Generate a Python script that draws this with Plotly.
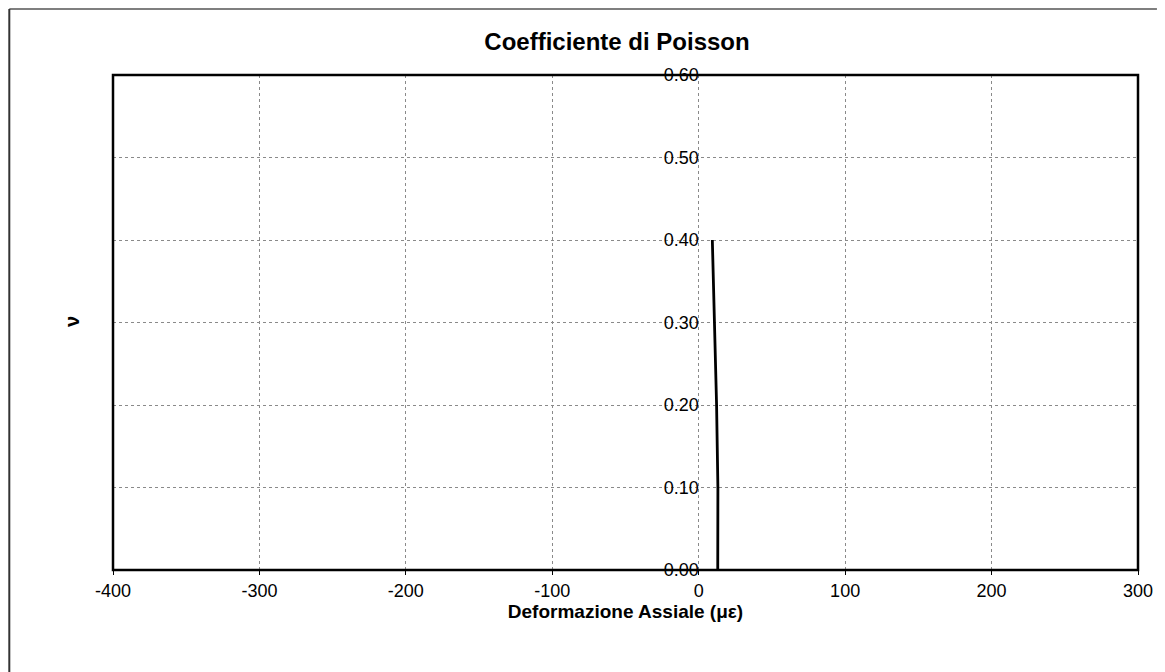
import plotly.graph_objects as go

# Data
strain = [9.3, 10.9, 12.2, 13.1, 13.0]   # Deformazione Assiale (με)
nu = [0.40, 0.30, 0.20, 0.10, 0.00]       # Coefficiente di Poisson

x_ticks = [-400, -300, -200, -100, 0, 100, 200, 300]
y_ticks = [0.0, 0.1, 0.2, 0.3, 0.4, 0.5, 0.6]
y_tick_text = ["0.00", "0.10", "0.20", "0.30", "0.40", "0.50", "0.60"]

X_MIN, X_MAX = -400, 300
FONT = "Liberation Sans, Arial, sans-serif"

# page has an 8px body margin; figure sized to fit the window
W, H = 1157, 664
L, T = 105, 67
pw, ph = 1028, 495
R = W - L - pw
B = H - T - ph

fig = go.Figure()
fig.add_trace(go.Scatter(x=strain, y=nu, mode="lines",
                         line=dict(color="black", width=2.8),
                         showlegend=False, hoverinfo="skip"))

grid = dict(showgrid=True, gridcolor="#8a8a8a", griddash="dot", gridwidth=1)

fig.update_layout(
    width=W, height=H,
    margin=dict(l=L, r=R, t=T, b=B),
    paper_bgcolor="white", plot_bgcolor="white",
    font=dict(family=FONT, color="black", size=18),
    title=dict(text="<b>Coefficiente di Poisson</b>", x=609 / W, xanchor="center",
               y=1 - 34 / H, yanchor="middle",
               font=dict(family=FONT, size=24, color="black")),
    xaxis=dict(range=[X_MIN, X_MAX], tickvals=x_ticks, ticktext=[str(v) for v in x_ticks],
               ticks="outside", ticklen=4, tickcolor="black", tickwidth=1,
               zeroline=False, showline=False,
               title=dict(text="<b>Deformazione Assiale (με)</b>", standoff=4,
                          font=dict(family=FONT, size=19, color="black")),
               tickfont=dict(family=FONT, size=18, color="black"),
               **grid),
    yaxis=dict(range=[0, 0.6], tickvals=y_ticks, ticktext=y_tick_text,
               anchor="free", position=(0 - X_MIN) / (X_MAX - X_MIN),
               ticks="", zeroline=False, showline=False,
               tickfont=dict(family=FONT, size=18, color="black"),
               **grid),
)

# plot frame
fig.add_shape(type="rect", xref="paper", yref="paper", x0=0, y0=0, x1=1, y1=1,
              line=dict(color="black", width=2.5), layer="above")
# outer chart border (top and left visible)
top_y = (ph + T - 1) / ph
left_x = (1 - L) / pw
fig.add_shape(type="line", xref="paper", yref="paper",
              x0=left_x, y0=top_y, x1=(1152 - L) / pw, y1=top_y,
              line=dict(color="#555", width=1.5))
fig.add_shape(type="line", xref="paper", yref="paper",
              x0=left_x, y0=top_y, x1=left_x, y1=-B / ph,
              line=dict(color="#333", width=2))

# y-axis title (ν) at the far left
fig.add_annotation(text="<b>ν</b>", xref="paper", yref="paper",
                   x=(64 - L) / pw, y=(ph + T - 314) / ph, showarrow=False,
                   xanchor="center", yanchor="middle",
                   textangle=-90, font=dict(family=FONT, size=20, color="black"))

fig.write_html("out.html")
